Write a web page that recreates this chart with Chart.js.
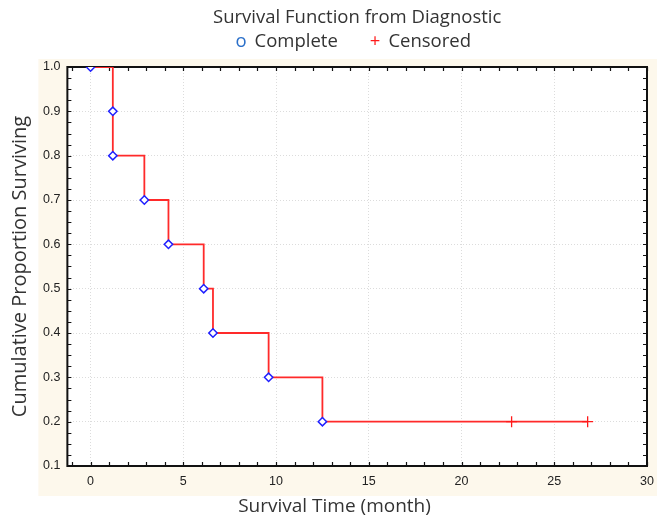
<!DOCTYPE html>
<html>
<head>
<meta charset="utf-8">
<script src="https://cdn.jsdelivr.net/npm/chart.js@4.4.1/dist/chart.umd.min.js"></script>
<style>
  html, body { margin: 0; padding: 0; background: #fff; }
  #wrap { width: 665px; height: 520px; }
</style>
</head>
<body>
<div id="wrap"><canvas id="chart" width="665" height="520"></canvas></div>
<script>
// Kaplan-Meier data
var stepTimes = [0, 1.2, 2.9, 4.2, 6.1, 6.6, 9.6, 12.5, 26.8];
var stepSurv = [1.0, 0.8, 0.7, 0.6, 0.5, 0.4, 0.3, 0.2, 0.2];
var completeTimes = [0, 1.2, 1.2, 2.9, 4.2, 6.1, 6.6, 9.6, 12.5];
var completeSurv = [1.0, 0.9, 0.8, 0.7, 0.6, 0.5, 0.4, 0.3, 0.2];
var censoredTimes = [22.7, 26.8];
var censoredSurv = [0.2, 0.2];
var xTicks = [0, 5, 10, 15, 20, 25, 30];

var titleText = "Survival Function from Diagnostic";
var xTitleText = "Survival Time (month)";
var legendItems = [
    { sym: "o", color: "#2a6fc9", label: "Complete" },
    { sym: "+", color: "#ff1a1a", label: "Censored" }
];

function toPoints(xs, ys) {
    return xs.map(function (x, i) { return { x: x, y: ys[i] }; });
}

var framePlugin = {
    id: 'frame',
    beforeDraw: function (chart) {
        var ctx = chart.ctx, a = chart.chartArea;
        ctx.save();
        ctx.fillStyle = '#ffffff';
        ctx.fillRect(0, 0, chart.width, chart.height);
        ctx.fillStyle = '#fdf8ec';
        ctx.fillRect(a.left - 29, a.top - 8, a.right - a.left + 39, a.bottom - a.top + 38);
        ctx.fillStyle = '#ffffff';
        ctx.fillRect(a.left, a.top, a.right - a.left, a.bottom - a.top);
        ctx.restore();
    },
    beforeDatasetsDraw: function (chart) {
        var ctx = chart.ctx, a = chart.chartArea;
        var xs = chart.scales.x, ys = chart.scales.y;
        ctx.save();
        ctx.strokeStyle = '#111';
        ctx.lineWidth = 1.2;
        ctx.beginPath();
        for (var v = -1; v <= 30; v++) {
            var px = Math.round(xs.getPixelForValue(v)) + 0.5;
            ctx.moveTo(px, a.bottom); ctx.lineTo(px, a.bottom - 4);
            ctx.moveTo(px, a.top); ctx.lineTo(px, a.top + 4);
        }
        for (var k = 0; k <= 36; k++) {
            var py = Math.round(ys.getPixelForValue(0.1 + k * 0.025)) + 0.5;
            ctx.moveTo(a.left, py); ctx.lineTo(a.left + 4, py);
            ctx.moveTo(a.right, py); ctx.lineTo(a.right - 4, py);
        }
        ctx.stroke();
        ctx.lineWidth = 2;
        ctx.strokeRect(a.left, a.top, a.right - a.left, a.bottom - a.top);
        ctx.restore();
    },
    afterDraw: function (chart) {
        var ctx = chart.ctx, a = chart.chartArea;
        var cx = (a.left + a.right) / 2;
        ctx.save();
        ctx.textBaseline = 'middle';
        ctx.font = '18.5px "Open Sans"';
        ctx.fillStyle = '#333';
        ctx.textAlign = 'center';
        ctx.fillText(titleText, cx, 18);

        // x axis title sits centred on the whole canvas in the original
        ctx.font = '19px "Open Sans"';
        ctx.fillText(xTitleText, chart.width / 2 + 2, 507);

        ctx.font = '18.5px "Open Sans"';
        ctx.textAlign = 'left';
        var gap = 8, itemGap = 32, total = 0;
        var widths = legendItems.map(function (it) {
            var w = ctx.measureText(it.sym).width + gap + ctx.measureText(it.label).width;
            total += w;
            return w;
        });
        total += itemGap * (legendItems.length - 1);
        var x = cx - total / 2 - 4;
        legendItems.forEach(function (it, i) {
            ctx.fillStyle = it.color;
            ctx.fillText(it.sym, x, 42);
            var sw = ctx.measureText(it.sym).width;
            ctx.fillStyle = '#333';
            ctx.fillText(it.label, x + sw + gap, 42);
            x += widths[i] + itemGap;
        });
        ctx.restore();
    }
};

var chart = new Chart(document.getElementById("chart"), {
    type: 'scatter',
    data: {
        datasets: [
            {
                type: 'line',
                data: toPoints(stepTimes, stepSurv),
                stepped: true,
                borderColor: '#ff2a2a',
                borderWidth: 1.8,
                pointRadius: 0,
                fill: false,
                order: 3
            },
            {
                data: toPoints(completeTimes, completeSurv),
                pointStyle: 'rectRot',
                pointRadius: 4.2,
                borderColor: '#2020ff',
                backgroundColor: '#ffffff',
                borderWidth: 1.5,
                order: 1
            },
            {
                data: toPoints(censoredTimes, censoredSurv),
                pointStyle: 'cross',
                pointRadius: 5.5,
                borderColor: '#ff1a1a',
                borderWidth: 1.3,
                order: 2
            }
        ]
    },
    options: {
        responsive: false,
        animation: false,
        layout: { padding: { top: 67, right: 18, left: 8, bottom: 23 } },
        plugins: {
            legend: { display: false },
            title: { display: false },
            tooltip: { enabled: false }
        },
        scales: {
            x: {
                type: 'linear',
                min: -1.25,
                max: 30,
                afterBuildTicks: function (axis) {
                    axis.ticks = xTicks.map(function (v) { return { value: v }; });
                },
                grid: { color: '#dcdcdc', drawTicks: false, lineWidth: 1 },
                border: { display: false, dash: [1, 2] },
                ticks: {
                    padding: 8,
                    color: '#222',
                    font: { family: '"Liberation Sans"', size: 12.5 },
                    maxRotation: 0
                },
                title: { display: false }
            },
            y: {
                min: 0.1,
                max: 1.0,
                grid: { color: '#dcdcdc', drawTicks: false, lineWidth: 1 },
                border: { display: false, dash: [1, 2] },
                ticks: {
                    stepSize: 0.1,
                    padding: 7,
                    color: '#222',
                    font: { family: '"Liberation Sans"', size: 12.5 },
                    callback: function (v) { return Number(v).toFixed(1); }
                },
                title: {
                    display: true,
                    text: 'Cumulative Proportion Surviving',
                    color: '#333',
                    font: { family: '"Open Sans"', size: 20 },
                    padding: { top: 0, bottom: 4 }
                }
            }
        }
    },
    plugins: [framePlugin]
});
</script>
</body>
</html>
